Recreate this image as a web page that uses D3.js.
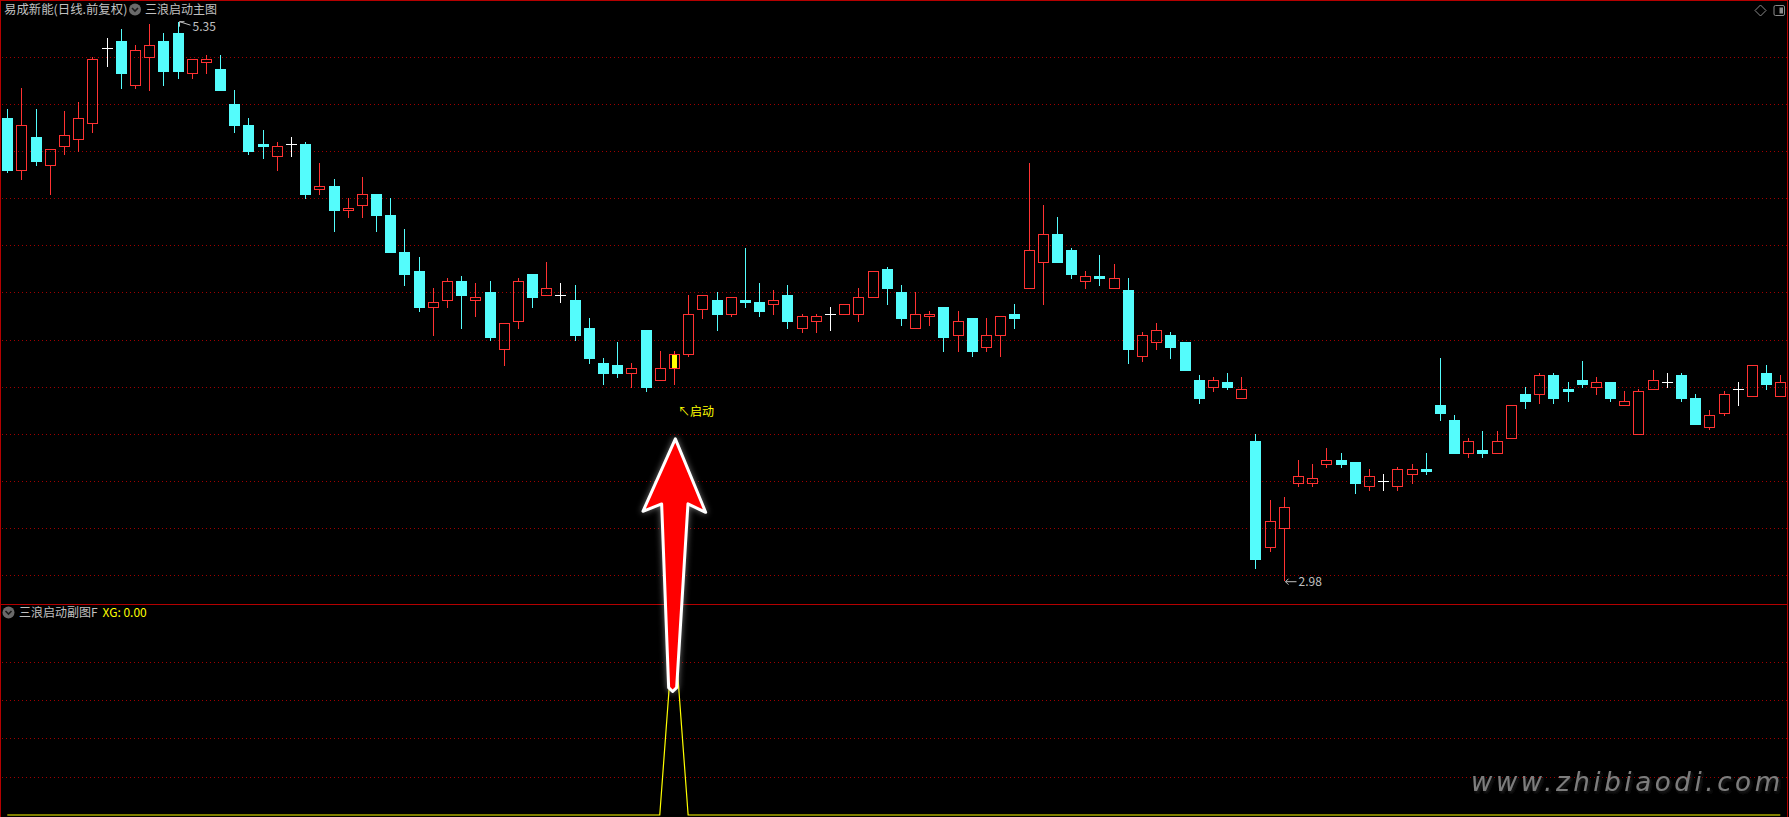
<!DOCTYPE html>
<html><head><meta charset="utf-8">
<script src="https://cdn.jsdelivr.net/npm/d3@7"></script>
<style>html,body{margin:0;padding:0;background:#000;overflow:hidden}svg{display:block}</style>
</head><body>
<svg id="c" width="1789" height="817"></svg>
<script>
// ---- data ----
const openP  = [4.94,4.72,4.86,4.74,4.82,4.85,4.92,5.24,5.27,5.08,5.20,5.27,5.30,5.13,5.18,5.15,5.00,4.91,4.83,4.78,4.83,4.83,4.64,4.65,4.55,4.57,4.62,4.53,4.37,4.29,4.14,4.17,4.25,4.17,4.20,3.96,4.08,4.28,4.19,4.19,4.17,4.05,3.90,3.89,3.86,4.04,3.83,3.88,3.94,4.13,4.17,4.11,4.17,4.16,4.15,4.19,4.05,4.08,4.11,4.11,4.11,4.18,4.30,4.20,4.05,4.10,4.14,4.02,4.09,3.97,4.02,4.11,4.22,4.33,4.45,4.38,4.25,4.27,4.22,4.21,3.93,3.99,4.02,3.99,3.83,3.80,3.82,3.75,3.57,3.12,3.20,3.39,3.39,3.47,3.49,3.48,3.38,3.40,3.38,3.43,3.45,3.72,3.66,3.52,3.53,3.52,3.58,3.77,3.77,3.85,3.79,3.83,3.80,3.82,3.72,3.60,3.79,3.82,3.85,3.75,3.63,3.69,3.79,3.76,3.86,3.76];
const highP  = [4.98,5.07,4.98,4.81,4.97,5.01,5.20,5.28,5.32,5.25,5.34,5.30,5.35,5.19,5.21,5.21,5.06,4.94,4.89,4.84,4.86,4.84,4.75,4.68,4.60,4.69,4.62,4.60,4.47,4.35,4.22,4.26,4.27,4.24,4.25,4.07,4.26,4.28,4.33,4.24,4.23,4.09,3.92,3.99,3.90,4.04,3.95,3.95,4.19,4.19,4.20,4.18,4.39,4.24,4.21,4.23,4.11,4.11,4.14,4.15,4.22,4.29,4.31,4.23,4.20,4.12,4.14,4.12,4.09,4.09,4.10,4.15,4.75,4.57,4.52,4.39,4.29,4.36,4.32,4.26,4.03,4.07,4.03,3.99,3.85,3.84,3.86,3.84,3.60,3.32,3.33,3.49,3.47,3.54,3.52,3.48,3.45,3.43,3.46,3.47,3.52,3.92,3.68,3.58,3.61,3.61,3.72,3.80,3.86,3.86,3.82,3.91,3.84,3.82,3.78,3.79,3.87,3.86,3.86,3.77,3.70,3.78,3.82,3.89,3.89,3.85];
const lowP   = [4.71,4.68,4.74,4.62,4.79,4.80,4.88,5.16,5.07,5.07,5.06,5.08,5.11,5.11,5.13,5.06,4.88,4.79,4.77,4.72,4.78,4.60,4.62,4.46,4.52,4.52,4.46,4.37,4.23,4.12,4.02,4.14,4.05,4.10,4.00,3.89,4.05,4.14,4.19,4.16,4.00,3.90,3.81,3.84,3.80,3.78,3.83,3.81,3.93,4.09,4.04,4.10,4.14,4.10,4.11,4.05,4.03,4.03,4.04,4.11,4.08,4.18,4.15,4.06,4.05,4.06,3.95,3.95,3.93,3.95,3.93,4.05,4.22,4.15,4.33,4.26,4.22,4.23,4.22,3.90,3.91,3.96,3.92,3.87,3.73,3.78,3.79,3.75,3.03,3.10,2.98,3.38,3.38,3.46,3.46,3.35,3.36,3.36,3.36,3.39,3.43,3.66,3.52,3.50,3.50,3.52,3.58,3.71,3.73,3.73,3.74,3.80,3.77,3.74,3.72,3.60,3.79,3.80,3.74,3.64,3.62,3.68,3.72,3.76,3.79,3.76];
const closeP = [4.72,4.91,4.76,4.81,4.87,4.94,5.19,5.24,5.13,5.23,5.25,5.14,5.14,5.19,5.19,5.06,4.91,4.80,4.82,4.82,4.83,4.62,4.65,4.55,4.56,4.62,4.53,4.37,4.28,4.14,4.16,4.25,4.19,4.18,4.01,4.07,4.25,4.18,4.22,4.19,4.02,3.92,3.86,3.86,3.88,3.80,3.88,3.94,4.11,4.19,4.11,4.18,4.16,4.12,4.17,4.08,4.10,4.10,4.11,4.15,4.18,4.29,4.22,4.09,4.11,4.11,4.01,4.08,3.95,4.02,4.10,4.09,4.38,4.45,4.33,4.28,4.27,4.26,4.26,3.96,4.02,4.04,3.97,3.87,3.75,3.83,3.80,3.79,3.07,3.23,3.29,3.42,3.41,3.49,3.47,3.39,3.42,3.40,3.45,3.45,3.44,3.69,3.52,3.57,3.52,3.57,3.72,3.74,3.85,3.75,3.78,3.81,3.82,3.75,3.74,3.78,3.83,3.82,3.75,3.64,3.68,3.77,3.79,3.89,3.81,3.82];
const xgValues = [0,0,0,0,0,0,0,0,0,0,0,0,0,0,0,0,0,0,0,0,0,0,0,0,0,0,0,0,0,0,0,0,0,0,0,0,0,0,0,0,0,0,0,0,0,0,0,1,0,0,0,0,0,0,0,0,0,0,0,0,0,0,0,0,0,0,0,0,0,0,0,0,0,0,0,0,0,0,0,0,0,0,0,0,0,0,0,0,0,0,0,0,0,0,0,0,0,0,0,0,0,0,0,0,0,0,0,0,0,0,0,0,0,0,0,0,0,0,0,0,0,0,0,0,0,0];
const priceGrid = [3.0,3.2,3.4,3.6,3.8,4.0,4.2,4.4,4.6,4.8,5.0,5.2];
const subGrid = [0.2,0.4,0.6,0.8];
const titleMain = "易成新能(日线.前复权)";
const titleInd = "三浪启动主图";
const titleSub = "三浪启动副图F";
const xgLabel = "XG: 0.00";
const signalText = "↖启动";
const watermark = "www.zhibiaodi.com";

// ---- styles ----
const UP = "#ff3232", DOWN = "#54fcfc", DOJI = "#ffffff", GRID = "#a00000", FRAME = "#b40000", TXT = "#c0c0c0";
const W = 1789, H = 817;
const svg = d3.select("#c");
svg.append("rect").attr("width", W).attr("height", H).attr("fill", "#000");

const n = openP.length;
const x = d3.scaleLinear().domain([0, n - 1]).range([7.3, 1780.3]);
const y = d3.scaleLinear().domain([3.0, 5.2]).range([575, 57]);
const ys = d3.scaleLinear().domain([0, 1]).range([815, 623.5]);

const defs = svg.append("defs");
const f = defs.append("filter").attr("id", "glow").attr("x", "-50%").attr("y", "-20%").attr("width", "200%").attr("height", "140%");
f.append("feGaussianBlur").attr("in", "SourceAlpha").attr("stdDeviation", 3).attr("result", "b");
f.append("feFlood").attr("flood-color", "#ffffff").attr("flood-opacity", 0.45);
f.append("feComposite").attr("in2", "b").attr("operator", "in").attr("result", "g");
const fm = f.append("feMerge"); fm.append("feMergeNode").attr("in", "g"); fm.append("feMergeNode").attr("in", "SourceGraphic");
const f2 = defs.append("filter").attr("id", "shadow");
f2.append("feDropShadow").attr("dx", 1.5).attr("dy", 2).attr("stdDeviation", 1.5).attr("flood-color", "#222").attr("flood-opacity", 1);

// grid
const g = svg.append("g").attr("shape-rendering", "crispEdges");
g.selectAll("line.pg").data(priceGrid).join("line")
  .attr("x1", 2).attr("x2", 1787)
  .attr("y1", d => Math.round(y(d)) + 0.5).attr("y2", d => Math.round(y(d)) + 0.5)
  .attr("stroke", GRID).attr("stroke-dasharray", "1 3");
g.selectAll("line.sg").data(subGrid).join("line")
  .attr("x1", 2).attr("x2", 1787)
  .attr("y1", d => Math.round(ys(d)) + 0.5).attr("y2", d => Math.round(ys(d)) + 0.5)
  .attr("stroke", GRID).attr("stroke-dasharray", "1 3");

// frame
g.append("line").attr("x1", 0).attr("x2", 1788).attr("y1", 0.5).attr("y2", 0.5).attr("stroke", FRAME);
g.append("line").attr("x1", 0.5).attr("x2", 0.5).attr("y1", 0).attr("y2", H).attr("stroke", FRAME);
g.append("line").attr("x1", 1787.5).attr("x2", 1787.5).attr("y1", 0).attr("y2", H).attr("stroke", FRAME);
g.append("line").attr("x1", 0).attr("x2", 1788).attr("y1", 604.5).attr("y2", 604.5).attr("stroke", FRAME);

// candles
const idx = d3.range(n);
const cg = svg.append("g").attr("shape-rendering", "crispEdges");
idx.forEach(i => {
  const o = openP[i], c = closeP[i], h = highP[i], l = lowP[i];
  const cx = Math.round(x(i));
  const yh = Math.round(y(h)), yl = Math.round(y(l));
  const yt = Math.round(y(Math.max(o, c))), yb = Math.round(y(Math.min(o, c)));
  if (o === c) {
    cg.append("line").attr("x1", cx + 0.5).attr("x2", cx + 0.5).attr("y1", yh).attr("y2", yl + 1).attr("stroke", DOJI);
    cg.append("line").attr("x1", cx - 5).attr("x2", cx + 6).attr("y1", yt + 0.5).attr("y2", yt + 0.5).attr("stroke", DOJI);
  } else if (c > o) {
    if (yh < yt) cg.append("line").attr("x1", cx + 0.5).attr("x2", cx + 0.5).attr("y1", yh).attr("y2", yt).attr("stroke", UP);
    if (yl > yb) cg.append("line").attr("x1", cx + 0.5).attr("x2", cx + 0.5).attr("y1", yb).attr("y2", yl + 1).attr("stroke", UP);
    if (xgValues[i] > 0) {
      cg.append("rect").attr("x", cx - 2).attr("y", yt).attr("width", 5).attr("height", Math.max(1, yb - yt)).attr("fill", "#ffff00");
    }
    cg.append("rect").attr("x", cx - 4.5).attr("y", yt + 0.5).attr("width", 10).attr("height", Math.max(1, yb - yt))
      .attr("fill", "none").attr("stroke", UP);
  } else {
    cg.append("line").attr("x1", cx + 0.5).attr("x2", cx + 0.5).attr("y1", yh).attr("y2", yl + 1).attr("stroke", DOWN);
    cg.append("rect").attr("x", cx - 5).attr("y", yt).attr("width", 11).attr("height", Math.max(1, yb - yt + 1)).attr("fill", DOWN);
  }
});

// titles
const font = "'Noto Sans CJK SC','Noto Sans',sans-serif";
svg.append("text").attr("x", 4).attr("y", 14).attr("fill", TXT).attr("font-family", font).attr("font-size", 12.4).text(titleMain);
function chevronIcon(cx, cy) {
  svg.append("circle").attr("cx", cx).attr("cy", cy).attr("r", 6).attr("fill", "#6a6a6a");
  svg.append("path").attr("d", `M${cx-3},${cy-1.5} L${cx},${cy+1.5} L${cx+3},${cy-1.5}`).attr("fill", "none").attr("stroke", "#1a1a1a").attr("stroke-width", 1.6);
}
chevronIcon(135, 9.5);
svg.append("text").attr("x", 145).attr("y", 14).attr("fill", TXT).attr("font-family", font).attr("font-size", 12).text(titleInd);

// top-right icons
svg.append("path").attr("d", "M1760.5,5 L1766,10.5 L1760.5,16 L1755,10.5 Z").attr("fill", "none").attr("stroke", "#8a8a8a");
svg.append("rect").attr("x", 1774).attr("y", 5.5).attr("width", 10.5).attr("height", 10).attr("rx", 1.5).attr("fill", "none").attr("stroke", "#8a8a8a");
svg.append("rect").attr("x", 1779.5).attr("y", 7.5).attr("width", 3.5).attr("height", 6).attr("fill", "#8a8a8a");

// max / min labels
const iMax = d3.maxIndex(highP), iMin = d3.minIndex(lowP);
const mx = Math.round(x(iMax)) + 0.5, my = y(highP[iMax]);
svg.append("path").attr("d", `M${mx+1},${my} L${mx+12},${my+3.5} M${mx+1},${my} L${mx+1},${my+5} M${mx+1},${my} L${mx+6},${my}`)
  .attr("stroke", TXT).attr("fill", "none");
svg.append("text").attr("x", mx + 14).attr("y", my + 9).attr("fill", TXT).attr("font-family", font).attr("font-size", 12).text(highP[iMax].toFixed(2));
const nx = Math.round(x(iMin)) + 0.5, ny = y(lowP[iMin]) + 2;
svg.append("path").attr("d", `M${nx+1},${ny} L${nx+12},${ny} M${nx+1},${ny} L${nx+4},${ny-3} M${nx+1},${ny} L${nx+4},${ny+3}`)
  .attr("stroke", TXT).attr("fill", "none");
svg.append("text").attr("x", nx + 14).attr("y", ny + 4.5).attr("fill", TXT).attr("font-family", font).attr("font-size", 12).text(lowP[iMin].toFixed(2));

// signal label
const iSig = xgValues.indexOf(1);
const sx = Math.round(x(iSig));
svg.append("text").attr("x", sx + 4).attr("y", y(lowP[iSig]) + 32).attr("fill", "#ffff00").attr("font-family", font).attr("font-size", 12).text(signalText);

// sub panel title
chevronIcon(8.5, 612.5);
svg.append("text").attr("x", 19).attr("y", 617).attr("fill", TXT).attr("font-family", font).attr("font-size", 12).text(titleSub);
svg.append("text").attr("x", 102.5).attr("y", 617).attr("fill", "#ffff00").attr("font-family", font).attr("font-size", 12).text(xgLabel);

// XG line
svg.append("path").datum(xgValues)
  .attr("d", d3.line().x((d, i) => x(i)).y(d => ys(d)))
  .attr("fill", "none").attr("stroke", "#ffff00").attr("stroke-width", 1.2);

// big arrow annotation pointing at the signal candle
const ax = x(iSig), ay = y(lowP[iSig]) + 54.6;
const arrowPts = [[1.4,0],[31.7,73.4],[14,65],[2.7,248.7],[-1.3,252.6],[-5.3,248.7],[-12.3,65],[-31,72.4]];
svg.append("path")
  .attr("d", "M" + arrowPts.map(p => (ax + p[0]) + "," + (ay + p[1])).join(" L") + " Z")
  .attr("fill", "#ff0000").attr("stroke", "#ffffff").attr("stroke-width", 3).attr("stroke-linejoin", "round")
  .attr("filter", "url(#glow)");

// watermark
svg.append("text").attr("x", 1471).attr("y", 791).attr("fill", "#7d7d7d")
  .attr("font-family", "'DejaVu Sans',sans-serif").attr("font-style", "italic").attr("font-size", 26)
  .attr("textLength", 309).attr("lengthAdjust", "spacing").attr("filter", "url(#shadow)").text(watermark);
</script>
</body></html>
